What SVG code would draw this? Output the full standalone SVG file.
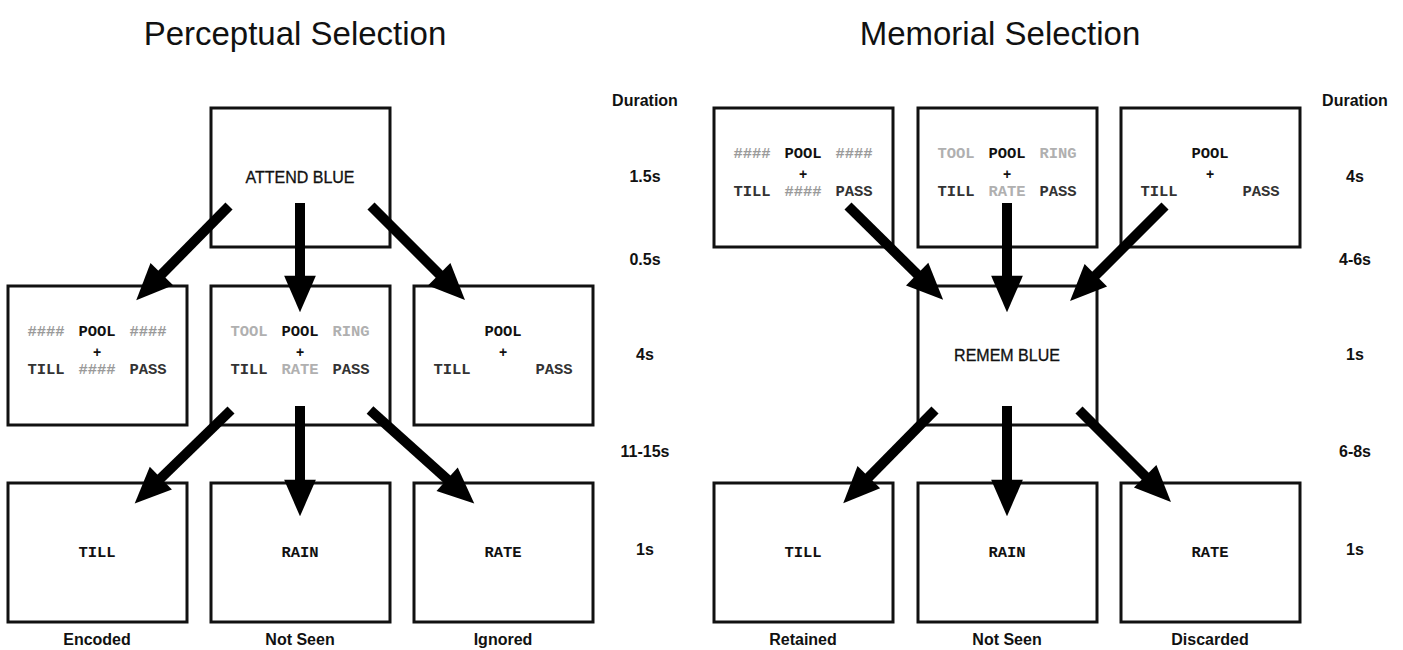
<svg xmlns="http://www.w3.org/2000/svg" width="1403" height="650" viewBox="0 0 1403 650">
<style>
.box{fill:#fff;stroke:#111;stroke-width:3}
.title{font-family:"Liberation Sans",Arial,sans-serif;font-size:33px;fill:#111;text-anchor:middle}
.cue{font-family:"Liberation Sans",Arial,sans-serif;font-size:16px;fill:#111;text-anchor:middle;stroke:#111;stroke-width:0.3}
.lbl{font-family:"Liberation Sans",Arial,sans-serif;font-size:16px;font-weight:bold;fill:#111;text-anchor:middle}
.w{font-family:"Liberation Mono","Courier New",monospace;font-size:15.5px;font-weight:bold;text-anchor:middle;fill:#333}
.pool{fill:#111}
.g1{fill:#9a9a9a}
.g2{fill:#b0b0b0}
.plus{font-family:"Liberation Sans",Arial,sans-serif;font-size:14px;font-weight:bold;text-anchor:middle;fill:#111}
.arr{stroke:#000;stroke-width:10;fill:none;marker-end:url(#ah)}
</style>
<defs>
<marker id="ah" markerUnits="strokeWidth" markerWidth="4" markerHeight="4" viewBox="-0.2 -1.5 3.4 3" refX="0" refY="0" orient="auto" overflow="visible">
<path d="M-0.1,-1.35 L3,0 L-0.1,1.35 z" fill="#000"/>
</marker>
</defs>
<rect width="1403" height="650" fill="#fff"/>

<text class="title" x="295" y="45">Perceptual Selection</text>
<text class="title" x="1000" y="45">Memorial Selection</text>

<!-- Durations -->
<g id="dur-left">
<text class="lbl" x="645" y="106">Duration</text>
<text class="lbl" x="645" y="182">1.5s</text>
<text class="lbl" x="645" y="265">0.5s</text>
<text class="lbl" x="645" y="360">4s</text>
<text class="lbl" x="645" y="457">11-15s</text>
<text class="lbl" x="645" y="555">1s</text>
</g>
<g id="dur-right">
<text class="lbl" x="1355" y="106">Duration</text>
<text class="lbl" x="1355" y="182">4s</text>
<text class="lbl" x="1355" y="265">4-6s</text>
<text class="lbl" x="1355" y="360">1s</text>
<text class="lbl" x="1355" y="457">6-8s</text>
<text class="lbl" x="1355" y="555">1s</text>
</g>

<!-- Left panel -->
<g id="attend">
<rect class="box" x="211" y="108" width="179" height="139"/>
<text class="cue" x="300" y="183">ATTEND BLUE</text>
</g>
<g id="p-hash">
<rect class="box" x="8" y="286" width="179" height="139"/>
<text class="w g1" x="46" y="336">####</text>
<text class="w pool" x="97" y="336">POOL</text>
<text class="w g1" x="148" y="336">####</text>
<text class="plus" x="97" y="357">+</text>
<text class="w" x="46" y="374">TILL</text>
<text class="w g1" x="97" y="374">####</text>
<text class="w" x="148" y="374">PASS</text>
</g>
<g id="p-words">
<rect class="box" x="211" y="286" width="179" height="139"/>
<text class="w g2" x="249" y="336">TOOL</text>
<text class="w pool" x="300" y="336">POOL</text>
<text class="w g2" x="351" y="336">RING</text>
<text class="plus" x="300" y="357">+</text>
<text class="w" x="249" y="374">TILL</text>
<text class="w g2" x="300" y="374">RATE</text>
<text class="w" x="351" y="374">PASS</text>
</g>
<g id="p-blank">
<rect class="box" x="414" y="286" width="179" height="139"/>
<text class="w pool" x="503" y="336">POOL</text>
<text class="plus" x="503" y="357">+</text>
<text class="w" x="452" y="374">TILL</text>
<text class="w" x="554" y="374">PASS</text>
</g>
<g id="p-till">
<rect class="box" x="8" y="483" width="179" height="139"/>
<text class="w pool" x="97" y="557">TILL</text>
<text class="lbl" x="97" y="645">Encoded</text>
</g>
<g id="p-rain">
<rect class="box" x="211" y="483" width="179" height="139"/>
<text class="w pool" x="300" y="557">RAIN</text>
<text class="lbl" x="300" y="645">Not Seen</text>
</g>
<g id="p-rate">
<rect class="box" x="414" y="483" width="179" height="139"/>
<text class="w pool" x="503" y="557">RATE</text>
<text class="lbl" x="503" y="645">Ignored</text>
</g>

<!-- Right panel -->
<g id="m-hash">
<rect class="box" x="714" y="108" width="179" height="139"/>
<text class="w g1" x="752" y="158">####</text>
<text class="w pool" x="803" y="158">POOL</text>
<text class="w g1" x="854" y="158">####</text>
<text class="plus" x="803" y="179">+</text>
<text class="w" x="752" y="196">TILL</text>
<text class="w g1" x="803" y="196">####</text>
<text class="w" x="854" y="196">PASS</text>
</g>
<g id="m-words">
<rect class="box" x="918" y="108" width="179" height="139"/>
<text class="w g2" x="956" y="158">TOOL</text>
<text class="w pool" x="1007" y="158">POOL</text>
<text class="w g2" x="1058" y="158">RING</text>
<text class="plus" x="1007" y="179">+</text>
<text class="w" x="956" y="196">TILL</text>
<text class="w g2" x="1007" y="196">RATE</text>
<text class="w" x="1058" y="196">PASS</text>
</g>
<g id="m-blank">
<rect class="box" x="1121" y="108" width="179" height="139"/>
<text class="w pool" x="1210" y="158">POOL</text>
<text class="plus" x="1210" y="179">+</text>
<text class="w" x="1159" y="196">TILL</text>
<text class="w" x="1261" y="196">PASS</text>
</g>
<g id="remem">
<rect class="box" x="918" y="286" width="179" height="139"/>
<text class="cue" x="1007" y="361">REMEM BLUE</text>
</g>
<g id="m-till">
<rect class="box" x="714" y="483" width="179" height="139"/>
<text class="w pool" x="803" y="557">TILL</text>
<text class="lbl" x="803" y="645">Retained</text>
</g>
<g id="m-rain">
<rect class="box" x="918" y="483" width="179" height="139"/>
<text class="w pool" x="1007" y="557">RAIN</text>
<text class="lbl" x="1007" y="645">Not Seen</text>
</g>
<g id="m-rate">
<rect class="box" x="1121" y="483" width="179" height="139"/>
<text class="w pool" x="1210" y="557">RATE</text>
<text class="lbl" x="1210" y="645">Discarded</text>
</g>

<g id="connectors">
<line class="arr" x1="229" y1="206" x2="161" y2="275"/>
<line class="arr" x1="300" y1="203" x2="300" y2="277"/>
<line class="arr" x1="371" y1="206" x2="440" y2="275"/>
<line class="arr" x1="231" y1="410" x2="160" y2="479"/>
<line class="arr" x1="300" y1="406" x2="300" y2="481"/>
<line class="arr" x1="370" y1="410" x2="448" y2="480"/>
<line class="arr" x1="848" y1="206" x2="918" y2="275"/>
<line class="arr" x1="1007" y1="203" x2="1007" y2="277"/>
<line class="arr" x1="1165" y1="206" x2="1095" y2="276"/>
<line class="arr" x1="935" y1="410" x2="868" y2="478"/>
<line class="arr" x1="1007" y1="406" x2="1007" y2="481"/>
<line class="arr" x1="1079" y1="410" x2="1146" y2="477"/>
</g>
</svg>
